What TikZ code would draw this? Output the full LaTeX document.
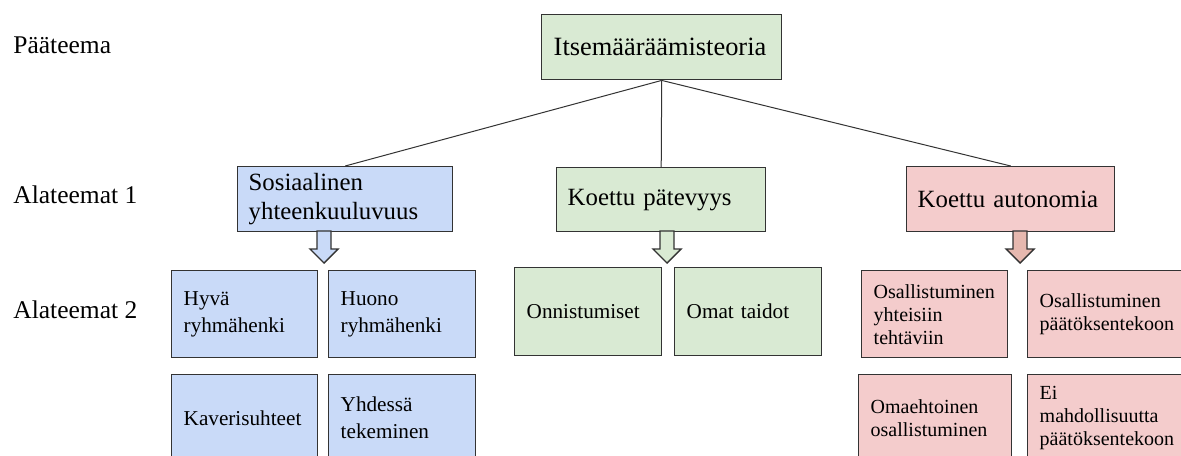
\documentclass[tikz,border=0pt]{standalone}
\usepackage{fontspec}
\setmainfont{Liberation Serif}
\usepackage{xcolor}
\definecolor{sininen}{HTML}{C9DAF8}
\definecolor{vihrea}{HTML}{D9EAD3}
\definecolor{punainen}{HTML}{F4CCCC}
\definecolor{punanuoli}{HTML}{E6B8AF}
\definecolor{reuna}{HTML}{333333}

\begin{document}
\begin{tikzpicture}[x=0.5pt, y=-0.5pt]
        \tikzstyle{laatikko}=[draw=reuna, line width=0.7pt, rectangle, anchor=north west, align=left, inner xsep=6pt, inner ysep=0pt]
        \tikzstyle{taso0}=[laatikko, fill=vihrea, font=\fontsize{13.2}{15}\selectfont]
        \tikzstyle{taso1}=[laatikko, inner xsep=5.5pt, font=\fontsize{12.4}{14.5}\selectfont]
        \tikzstyle{taso2}=[laatikko, minimum height=43.5pt, font=\fontsize{10.6}{13.5}\selectfont]
        \tikzstyle{taso2r}=[taso2, fill=punainen, font=\fontsize{10}{11.5}\selectfont]
        \tikzstyle{otsikko}=[anchor=base west, inner sep=0pt, font=\fontsize{12.75}{15}\selectfont]
        \tikzstyle{yhteys}=[draw=reuna, line width=0.5pt]
        \tikzstyle{nuoli}=[draw=reuna, line width=0.7pt, line join=miter]

        \useasboundingbox (0,0) rectangle (1181,455);
        \clip (0,0) rectangle (1181,455);
        \fill[white] (0,0) rectangle (1181,455);

        \coordinate (N1) at (324,231);
        \coordinate (N2) at (667,231);
        \coordinate (N3) at (1020,231);

        % tasojen nimet
        \node (paa) at (13,53)[otsikko]{Pääteema};
        \node (ala1) at (13,203)[otsikko]{Alateemat 1};
        \node (ala2) at (13,318)[otsikko]{Alateemat 2};

        % pääteema ja alateemat 1
        \node (teoria) at (541,14)[taso0, text width=108pt, minimum height=32.5pt]{Itsemääräämisteoria};
        \node (sos) at (237,166)[taso1, fill=sininen, text width=96.5pt, minimum height=32.5pt]{Sosiaalinen\\yhteenkuuluvuus};
        \node (patev) at (556,167)[taso1, fill=vihrea, text width=93.5pt, minimum height=32pt]{Koettu pätevyys};
        \node (auto) at (906,166)[taso1, fill=punainen, text width=93pt, minimum height=32.5pt]{Koettu autonomia};

        \draw[yhteys] (teoria.south) -- (sos.north);
        \draw[yhteys] (teoria.south) -- (patev.north);
        \draw[yhteys] (teoria.south) -- (auto.north);

        \draw[nuoli, fill=sininen] (N1) ++(-7,0) -- ++(0,18) -- ++(-7,0) -- ++(14,14) -- ++(14,-14) -- ++(-7,0) -- ++(0,-18) -- cycle;
        \draw[nuoli, fill=vihrea] (N2) ++(-7,0) -- ++(0,18) -- ++(-7,0) -- ++(14,14) -- ++(14,-14) -- ++(-7,0) -- ++(0,-18) -- cycle;
        \draw[nuoli, fill=punanuoli] (N3) ++(-7,0) -- ++(0,18) -- ++(-7,0) -- ++(14,14) -- ++(14,-14) -- ++(-7,0) -- ++(0,-18) -- cycle;

        % alateemat 2
        \node (hyva) at (171,270)[taso2, fill=sininen, text width=61pt]{Hyvä\\ryhmähenki};
        \node (huono) at (328,270)[taso2, fill=sininen, text width=61.5pt]{Huono\\ryhmähenki};
        \node (kaveri) at (171,374)[taso2, fill=sininen, text width=61pt]{Kaverisuhteet};
        \node (yhdessa) at (328,374)[taso2, fill=sininen, text width=61.5pt]{Yhdessä\\tekeminen};

        \node (onnist) at (514,267)[taso2, fill=vihrea, text width=61.5pt, minimum height=44pt]{Onnistumiset};
        \node (taidot) at (674,267)[taso2, fill=vihrea, text width=61.5pt, minimum height=44pt]{Omat taidot};

        \node (osyht) at (861,270)[taso2r, text width=61pt]{Osallistuminen\\yhteisiin\\tehtäviin};
        \node (ospaat) at (1027,270)[taso2r, text width=69.5pt]{Osallistuminen\\päätöksentekoon};
        \node (omaeht) at (858,374)[taso2r, text width=64.5pt]{Omaehtoinen\\osallistuminen};
        \node (ei) at (1027,374)[taso2r, text width=69.5pt]{Ei\\mahdollisuutta\\päätöksentekoon};
      \end{tikzpicture}
\end{document}
